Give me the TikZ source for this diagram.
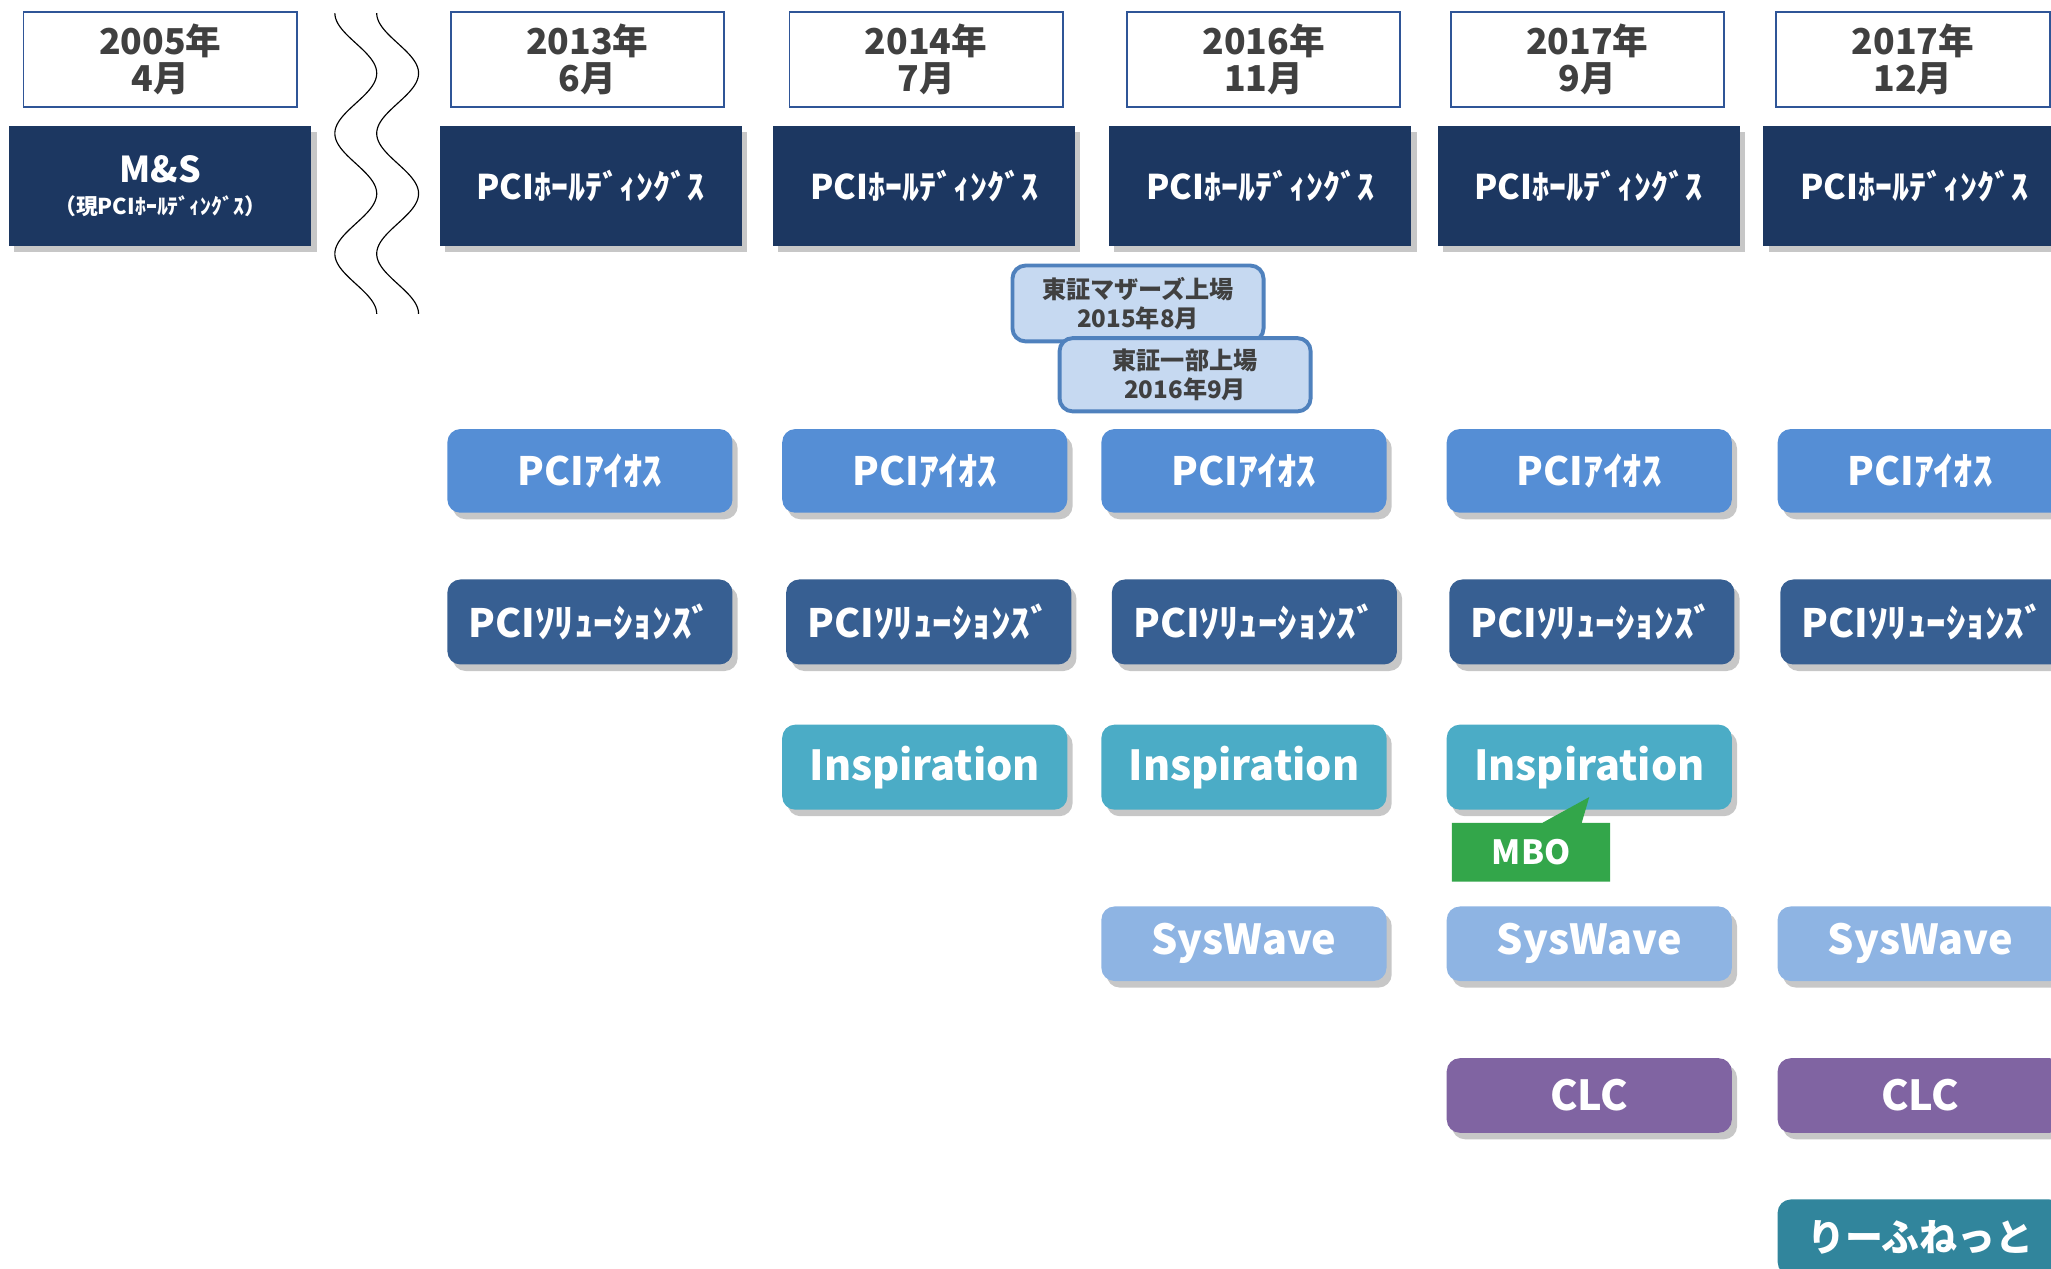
\documentclass[tikz,border=0pt]{standalone}
\usepackage{fontspec}
\setmainfont{Noto Sans CJK JP}
\usepackage{xcolor}
\usepackage{tikz}
\usetikzlibrary{shadows,shapes.callouts}

\definecolor{navy}{HTML}{1C3761}
\definecolor{dateline}{HTML}{2F5597}
\definecolor{textgray}{HTML}{404040}
\definecolor{aios}{HTML}{558ED5}
\definecolor{solu}{HTML}{375F92}
\definecolor{insp}{HTML}{4BACC6}
\definecolor{sysw}{HTML}{8EB4E3}
\definecolor{clc}{HTML}{8064A2}
\definecolor{leaf}{HTML}{31859C}
\definecolor{mbog}{HTML}{33A64A}
\definecolor{listfill}{HTML}{C6D9F1}
\definecolor{listline}{HTML}{4F81BD}

\tikzset{
    shade/.style={drop shadow={shadow xshift=0.08cm, shadow yshift=-0.1cm, opacity=0.22, fill=black}},
    datebox/.style={draw=dateline, line width=0.8pt, fill=white, minimum width=4.18cm, minimum height=1.46cm,
        align=center, text=textgray, font=\bfseries\fontsize{15.5}{16}\selectfont},
    hold/.style={shade, fill=navy, minimum width=4.62cm, minimum height=1.84cm, align=center, text=white,
        font=\bfseries\fontsize{14.8}{14}\selectfont},
    company/.style={shade, rounded corners=0.2cm, minimum width=4.36cm, minimum height=1.28cm, text=white,
        font=\bfseries\fontsize{17}{20}\selectfont},
    aiosbox/.style={company, fill=aios},
    solubox/.style={company, fill=solu, minimum height=1.3cm},
    inspbox/.style={company, fill=insp, minimum height=1.3cm, font=\bfseries\fontsize{18}{20}\selectfont},
    syswbox/.style={company, fill=sysw, minimum height=1.14cm, font=\bfseries\fontsize{18}{20}\selectfont},
    clcbox/.style={company, fill=clc, minimum height=1.14cm, font=\bfseries\fontsize{18}{20}\selectfont},
    leafbox/.style={company, fill=leaf, minimum height=1.16cm, font=\bfseries\fontsize{16.5}{20}\selectfont},
    listing/.style={draw=listline, line width=1.7pt, fill=listfill, rounded corners=0.2cm, minimum width=3.84cm,
        minimum height=1.16cm, align=center, text=textgray, font=\bfseries\fontsize{10.5}{12.5}\selectfont},
    mbobox/.style={rectangle callout, fill=mbog, minimum width=2.42cm, minimum height=0.9cm, text=white,
        callout pointer width=0.6cm, font=\bfseries\fontsize{14.5}{16}\selectfont}
}

\begin{document}
\begin{tikzpicture}[x=0.02cm, y=-0.02cm]
        \useasboundingbox (0,0) rectangle (1568,970);
        \clip (0,0) rectangle (1568,970);

        \node (d2005) [datebox] at (122.5,45.5) {2005年\\4月};
        \node (d2013) [datebox] at (449,45.5) {2013年\\6月};
        \node (d2014) [datebox] at (708,45.5) {2014年\\7月};
        \node (d2016) [datebox] at (966,45.5) {2016年\\11月};
        \node (d2017a) [datebox] at (1213.5,45.5) {2017年\\9月};
        \node (d2017b) [datebox] at (1462.5,45.5) {2017年\\12月};

        \draw [line width=0.5pt] plot [domain=0:230, samples=150] ({272-16*cos(\x/46*180)}, {10+\x});
        \draw [line width=0.5pt] plot [domain=0:230, samples=150] ({304-16*cos(\x/46*180)}, {10+\x});

        \node (h2005) [hold] at (122.5,142) {\fontsize{15.5}{14}\selectfont M\&S\\{\fontsize{9.5}{11}\selectfont （現PCIﾎｰﾙﾃﾞｨﾝｸﾞｽ）}};
        \node (h2013) [hold] at (451.5,142) {PCIﾎｰﾙﾃﾞｨﾝｸﾞｽ};
        \node (h2014) [hold] at (706.5,142) {PCIﾎｰﾙﾃﾞｨﾝｸﾞｽ};
        \node (h2016) [hold] at (963.5,142) {PCIﾎｰﾙﾃﾞｨﾝｸﾞｽ};
        \node (h2017a) [hold] at (1214.5,142) {PCIﾎｰﾙﾃﾞｨﾝｸﾞｽ};
        \node (h2017b) [hold] at (1463.5,142) {PCIﾎｰﾙﾃﾞｨﾝｸﾞｽ};

        \node (mothers) [listing] at (870,232) {東証マザーズ上場\\2015年8月};
        \node (ichibu) [listing, minimum height=1.12cm] at (906,286.5) {東証一部上場\\2016年9月};

        \node (a2013) [aiosbox] at (451,360) {PCIｱｲｵｽ};
        \node (a2014) [aiosbox] at (707,360) {PCIｱｲｵｽ};
        \node (a2016) [aiosbox] at (951,360) {PCIｱｲｵｽ};
        \node (a2017a) [aiosbox] at (1215,360) {PCIｱｲｵｽ};
        \node (a2017b) [aiosbox] at (1468,360) {PCIｱｲｵｽ};

        \node (s2013) [solubox] at (451,475.5) {PCIｿﾘｭｰｼｮﾝｽﾞ};
        \node (s2014) [solubox] at (710,475.5) {PCIｿﾘｭｰｼｮﾝｽﾞ};
        \node (s2016) [solubox] at (959,475.5) {PCIｿﾘｭｰｼｮﾝｽﾞ};
        \node (s2017a) [solubox] at (1217,475.5) {PCIｿﾘｭｰｼｮﾝｽﾞ};
        \node (s2017b) [solubox] at (1470,475.5) {PCIｿﾘｭｰｼｮﾝｽﾞ};

        \node (i2014) [inspbox] at (707,586.5) {Inspiration};
        \node (i2016) [inspbox] at (951,586.5) {Inspiration};
        \node (i2017a) [inspbox] at (1215,586.5) {Inspiration};

        \node (mbo) [mbobox, callout absolute pointer={([yshift=0.2cm]i2017a.south)}] at (1170.5,651.5) {MBO};

        \node (w2016) [syswbox] at (951,721.5) {SysWave};
        \node (w2017a) [syswbox] at (1215,721.5) {SysWave};
        \node (w2017b) [syswbox] at (1468,721.5) {SysWave};

        \node (c2017a) [clcbox] at (1215,837.5) {CLC};
        \node (c2017b) [clcbox] at (1468,837.5) {CLC};

        \node (leaf) [leafbox] at (1468,946) {りーふねっと};
    \end{tikzpicture}
\end{document}
